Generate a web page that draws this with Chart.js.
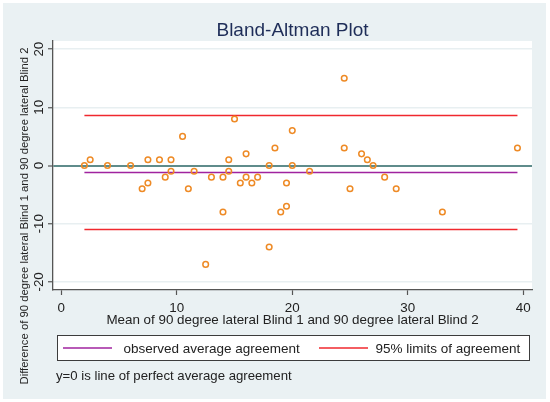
<!DOCTYPE html>
<html>
<head>
<meta charset="utf-8">
<script src="https://cdn.jsdelivr.net/npm/chart.js@4"></script>
<style>
  html, body { margin: 0; padding: 0; background: #ffffff; }
  #wrap { width: 550px; height: 402px; }
</style>
</head>
<body>
<div id="wrap"><canvas id="chart" width="550" height="402"></canvas></div>
<script>
// data
const xMean = [2, 2.5, 4, 6, 7, 7.5, 7.5, 8.5, 9, 9.5, 9.5, 10.5, 11, 11.5, 12.5, 13, 14, 14, 14.5, 14.5,
    15, 15.5, 16, 16, 16.5, 17, 18, 18, 18.5, 19, 19.5, 19.5, 20, 20, 21.5,
    24.5, 24.5, 25, 26, 26.5, 27, 28, 29, 33, 39.5];
const yDiff = [0, 1, 0, 0, -4, -3, 1, 1, -2, 1, -1, 5, -4, -1, -17, -2, -2, -8, 1, -1,
    8, -3, 2, -2, -3, -2, 0, -14, 3, -8, -7, -3, 6, 0, -1,
    15, 3, -4, 2, 1, 0, -2, -4, -8, 3];

const meanDiff = -1.2;
const limitsOfAgreement = [8.6, -11.0];
const lineRange = [2, 39.5];

const xTickVals = [0, 10, 20, 30, 40];
const yTickVals = [-20, -10, 0, 10, 20];

const FONT = "'Liberation Sans', Arial, sans-serif";
const purple = '#a0239f';
const red = '#f0282e';
const orange = '#ee8a25';

function hline(y) {
    return [{x: lineRange[0], y: y}, {x: lineRange[1], y: y}];
}

// backgrounds, tick labels, titles and legend box
const stataLook = {
    id: 'stataLook',
    beforeDraw(chart) {
        const c = chart.ctx, a = chart.chartArea;
        c.save();
        c.fillStyle = '#eaf1f3';
        c.fillRect(3, 3, 543, 396);
        c.fillStyle = '#ffffff';
        c.fillRect(a.left, a.top, a.right - a.left, a.bottom - a.top);
        c.restore();
    },
    afterDraw(chart) {
        const c = chart.ctx, a = chart.chartArea;
        const xs = chart.scales.x, ys = chart.scales.y;
        const cx = (a.left + a.right) / 2;
        c.save();
        // title
        c.fillStyle = '#1e2d58';
        c.font = '19px ' + FONT;
        c.textAlign = 'center';
        c.textBaseline = 'alphabetic';
        c.fillText('Bland-Altman Plot', cx, 36);

        c.fillStyle = '#222222';
        c.font = '13.4px ' + FONT;
        xTickVals.forEach(v => {
            c.fillText(String(v), xs.getPixelForValue(v), 311.5);
        });
        yTickVals.forEach(v => {
            c.save();
            c.translate(43.3, ys.getPixelForValue(v));
            c.rotate(-Math.PI / 2);
            c.fillText(String(v), 0, 0);
            c.restore();
        });
        c.fillText('Mean of 90 degree lateral Blind 1 and 90 degree lateral Blind 2', cx, 323.5);

        c.save();
        c.font = '11.3px ' + FONT;
        c.translate(27.5, 216);
        c.rotate(-Math.PI / 2);
        c.fillText('Difference of 90 degree lateral Blind 1 and 90 degree lateral Blind 2', 0, 0);
        c.restore();

        // legend
        c.fillStyle = '#ffffff';
        c.fillRect(57.5, 335.5, 472, 25);
        c.strokeStyle = '#3c3c3c';
        c.lineWidth = 1;
        c.strokeRect(57.5, 335.5, 472, 25);
        c.lineWidth = 1.6;
        c.strokeStyle = purple;
        c.beginPath(); c.moveTo(63, 348); c.lineTo(112, 348); c.stroke();
        c.strokeStyle = red;
        c.beginPath(); c.moveTo(319, 348); c.lineTo(368, 348); c.stroke();
        c.fillStyle = '#222222';
        c.font = '13.5px ' + FONT;
        c.textAlign = 'left';
        c.fillText('observed average agreement', 123.5, 353);
        c.fillText('95% limits of agreement', 375.5, 353);
        c.font = '13.2px ' + FONT;
        c.fillText('y=0 is line of perfect average agreement', 56, 379.5);
        c.restore();
    }
};

const ctx = document.getElementById('chart').getContext('2d');
const chart = new Chart(ctx, {
    type: 'scatter',
    data: {
        datasets: [{
            label: 'difference',
            data: xMean.map((x, i) => ({x: x, y: yDiff[i]})),
            pointStyle: 'circle',
            pointRadius: 2.8,
            pointBorderWidth: 1.5,
            borderColor: orange,
            backgroundColor: 'rgba(0,0,0,0)'
        }, {
            label: 'observed average agreement',
            type: 'line',
            data: hline(meanDiff),
            borderColor: purple,
            borderWidth: 1.6,
            pointRadius: 0
        }, {
            label: '95% limits upper',
            type: 'line',
            data: hline(limitsOfAgreement[0]),
            borderColor: red,
            borderWidth: 1.6,
            pointRadius: 0
        }, {
            label: '95% limits lower',
            type: 'line',
            data: hline(limitsOfAgreement[1]),
            borderColor: red,
            borderWidth: 1.6,
            pointRadius: 0
        }]
    },
    options: {
        responsive: false,
        animation: false,
        devicePixelRatio: 1,
        layout: {padding: {left: 48, right: 18, top: 41, bottom: 107}},
        plugins: {legend: {display: false}, tooltip: {enabled: false}, title: {display: false}},
        scales: {
            x: {
                type: 'linear',
                min: -0.72,
                max: 40.76,
                afterBuildTicks: s => { s.ticks = xTickVals.map(v => ({value: v})); },
                ticks: {display: false},
                grid: {drawOnChartArea: false, drawTicks: true, tickLength: 5, tickColor: '#555555', tickWidth: 1.2},
                border: {display: true, color: '#555555', width: 1.3}
            },
            y: {
                type: 'linear',
                min: -21.4,
                max: 21.4,
                afterBuildTicks: s => { s.ticks = yTickVals.map(v => ({value: v})); },
                ticks: {display: false},
                grid: {
                    drawTicks: true,
                    tickLength: 5,
                    tickColor: '#555555',
                    tickWidth: 1.2,
                    color: c => (c.tick && c.tick.value === 0) ? '#5f8c8b' : '#e8eff1',
                    lineWidth: c => (c.tick && c.tick.value === 0) ? 2 : 1.5
                },
                border: {display: true, color: '#555555', width: 1.3}
            }
        }
    },
    plugins: [stataLook]
});
</script>
</body>
</html>
